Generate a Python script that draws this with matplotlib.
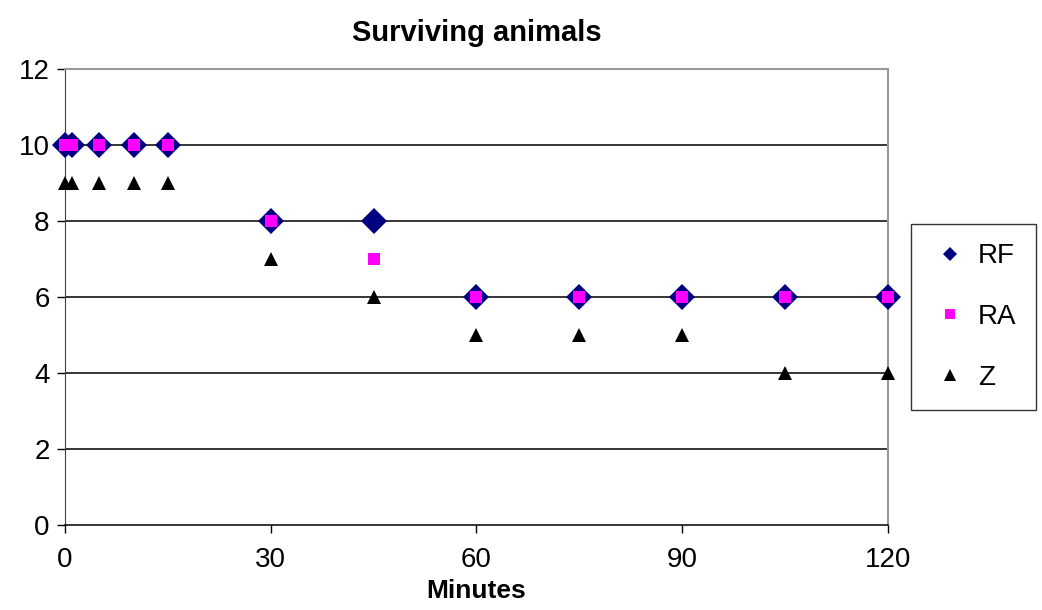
import matplotlib.pyplot as plt
from matplotlib.lines import Line2D

plt.rcParams['font.family'] = ['Liberation Sans', 'DejaVu Sans']

minutes = [0, 1, 5, 10, 15, 30, 45, 60, 75, 90, 105, 120]
rf = [10, 10, 10, 10, 10, 8, 8, 6, 6, 6, 6, 6]
ra = [10, 10, 10, 10, 10, 8, 7, 6, 6, 6, 6, 6]
z = [9, 9, 9, 9, 9, 7, 6, 5, 5, 5, 4, 4]

x_ticks = [0, 30, 60, 90, 120]
y_ticks = [0, 2, 4, 6, 8, 10, 12]

fig = plt.figure(figsize=(10.42, 6.10), dpi=100)
ax = fig.add_axes([0.0624, 0.139, 0.7896, 0.748])

# horizontal gridlines, drawn under the markers
for y in y_ticks[1:-1]:
    ax.axhline(y, color='black', lw=1.1, zorder=1)

ax.plot(minutes, rf, 'D', color='#000080', ms=12.8, mew=0,
        clip_on=False, zorder=3)
ax.plot(minutes, ra, 's', color='#ff00ff', ms=9.3, mew=0,
        clip_on=False, zorder=4)
ax.plot(minutes, z, '^', color='black', ms=10.5, mew=0,
        clip_on=False, zorder=5)

ax.set_xlim(0, 120)
ax.set_ylim(0, 12)
ax.set_xticks(x_ticks)
ax.set_yticks(y_ticks)
ax.tick_params(axis='both', direction='out', length=6, width=1,
               labelsize=20, colors='black', pad=5)
ax.tick_params(axis='x', pad=10)

ax.spines['top'].set_color('#999999')
ax.spines['right'].set_color('#999999')
ax.spines['top'].set_linewidth(1.5)
ax.spines['right'].set_linewidth(1.5)
ax.spines['left'].set_color('#404040')
ax.spines['bottom'].set_color('black')
ax.spines['bottom'].set_linewidth(1.1)

ax.set_title('Surviving animals', fontsize=21, fontweight='bold', pad=20)
ax.set_xlabel('Minutes', fontsize=19, fontweight='bold', labelpad=4)

handles = [
    Line2D([], [], ls='none', marker='D', color='#000080', ms=7, mew=0),
    Line2D([], [], ls='none', marker='s', color='#ff00ff', ms=7.5, mew=0),
    Line2D([], [], ls='none', marker='^', color='black', ms=8, mew=0),
]
leg = fig.legend(handles, ['RF', 'RA', 'Z'], loc='upper left',
                 bbox_to_anchor=(911 / 1042, 1 - 224 / 610),
                 fontsize=20, frameon=True, fancybox=False,
                 labelspacing=1.25, borderpad=0.7, handlelength=1.4,
                 handletextpad=0.3, borderaxespad=0)
leg.get_frame().set_edgecolor('black')
leg.get_frame().set_linewidth(1.0)

fig.savefig('out.png', dpi=100)
